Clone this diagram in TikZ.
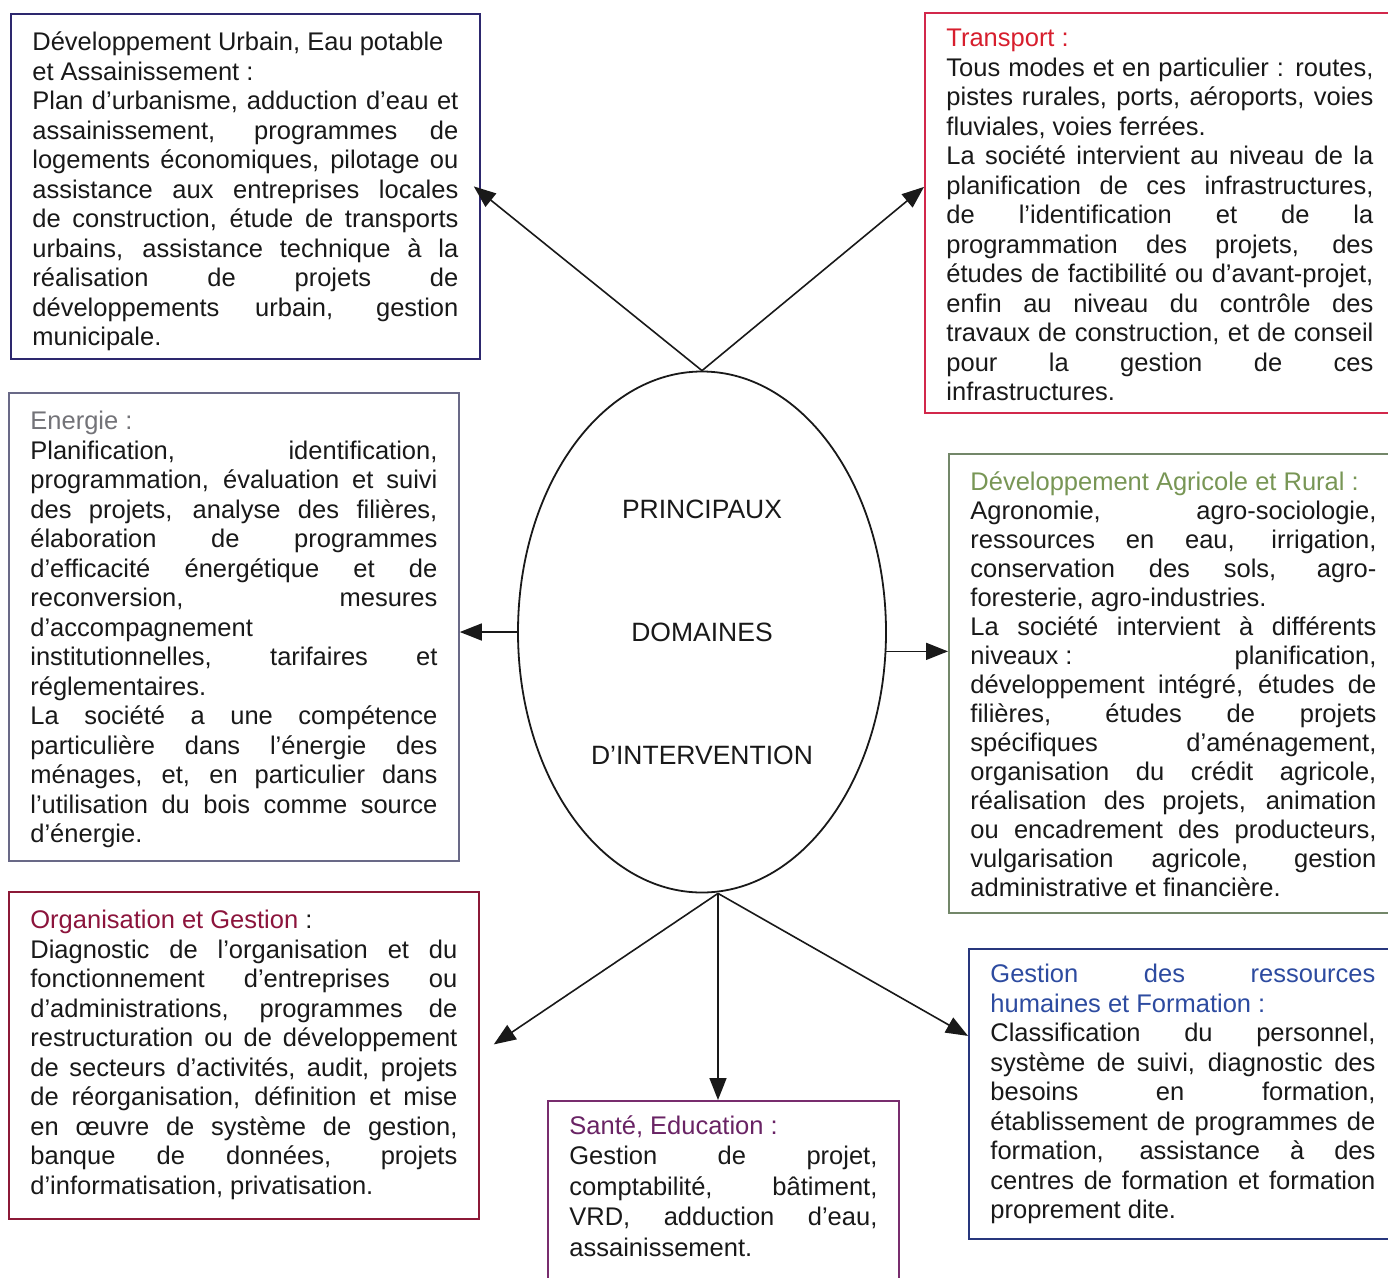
\documentclass[tikz,border=0pt]{standalone}
\usepackage{fontspec}
\setmainfont{Liberation Sans}
\usepackage{tikz}
\usetikzlibrary{arrows.meta}
\usetikzlibrary{shapes.geometric}

\definecolor{ink}{RGB}{25,25,25}
\definecolor{urbline}{RGB}{45,40,110}
\definecolor{transline}{RGB}{210,40,75}
\definecolor{transtitle}{RGB}{215,30,45}
\definecolor{enerline}{RGB}{105,105,135}
\definecolor{enertitle}{RGB}{115,115,120}
\definecolor{agriline}{RGB}{115,135,105}
\definecolor{agrititle}{RGB}{120,150,85}
\definecolor{orgline}{RGB}{140,25,55}
\definecolor{orgtitle}{RGB}{140,20,60}
\definecolor{santeline}{RGB}{120,45,110}
\definecolor{santetitle}{RGB}{105,35,100}
\definecolor{grhline}{RGB}{40,55,125}
\definecolor{grhtitle}{RGB}{45,75,160}

% line ends are set by hand below
\pretolerance=10000
\tolerance=10000
\hyphenpenalty=10000

\begin{document}
\begin{tikzpicture}[x=1pt, y=-1pt,
    carte/.style={draw, line width=1.8pt, anchor=north west, inner xsep=21.5pt,
      inner ysep=16pt, text=ink, font=\fontsize{25.5}{29.5}\selectfont},
    domaines/.style={ellipse, draw=ink, line width=1.8pt, minimum width=368pt,
      minimum height=521pt, inner sep=0pt, align=center, text=ink,
      font=\fontsize{26.5}{123}\selectfont},
    fleche/.style={draw=ink, line width=1.6pt, -{Triangle[length=22pt, width=17pt]}}]

  \useasboundingbox[fill=white] (0,0) rectangle (1388,1277);

  \node[domaines] (ell) at (702,632) {PRINCIPAUX\\DOMAINES\\D’INTERVENTION};

  \node[carte, draw=urbline] (urb) at (10,13)
    {\parbox[t][313pt][t]{426pt}{\strut Développement Urbain, Eau potable\newline
      et Assainissement :\par
      Plan d’urbanisme, adduction d’eau et\linebreak
      assainissement, programmes de\linebreak
      logements économiques, pilotage ou\linebreak
      assistance aux entreprises locales\linebreak
      de construction, étude de transports\linebreak
      urbains, assistance technique à la\linebreak
      réalisation de projets de\linebreak
      développements urbain, gestion\linebreak
      municipale.}};

  \node[carte, draw=transline, inner ysep=13pt] (trans) at (924,12)
    {\parbox[t][374pt][t]{427pt}{\strut\textcolor{transtitle}{Transport :}\par
      Tous modes et en particulier : routes,\linebreak
      pistes rurales, ports, aéroports, voies\linebreak
      fluviales, voies ferrées.\par
      La société intervient au niveau de la\linebreak
      planification de ces infrastructures,\linebreak
      de l’identification et de la\linebreak
      programmation des projets, des\linebreak
      études de factibilité ou d’avant-projet,\linebreak
      enfin au niveau du contrôle des\linebreak
      travaux de construction, et de conseil\linebreak
      pour la gestion de ces\linebreak
      infrastructures.}};

  \node[carte, draw=enerline] (ener) at (8,392)
    {\parbox[t][436pt][t]{407pt}{\strut\textcolor{enertitle}{Energie :}\par
      Planification, identification,\linebreak
      programmation, évaluation et suivi\linebreak
      des projets, analyse des filières,\linebreak
      élaboration de programmes\linebreak
      d’efficacité énergétique et de\linebreak
      reconversion, mesures\linebreak
      d’accompagnement\linebreak
      institutionnelles, tarifaires et\linebreak
      réglementaires.\par
      La société a une compétence\linebreak
      particulière dans l’énergie des\linebreak
      ménages, et, en particulier dans\linebreak
      l’utilisation du bois comme source\linebreak
      d’énergie.}};

  \node[carte, draw=agriline, font=\fontsize{25.5}{29}\selectfont] (agri) at (948,453)
    {\parbox[t][427pt][t]{406pt}{\strut\textcolor{agrititle}{Développement Agricole et Rural :}\par
      Agronomie, agro-sociologie,\linebreak
      ressources en eau, irrigation,\linebreak
      conservation des sols, agro-\linebreak
      foresterie, agro-industries.\par
      La société intervient à différents\linebreak
      \mbox{niveaux :} planification,\linebreak
      développement intégré, études de\linebreak
      filières, études de projets\linebreak
      spécifiques d’aménagement,\linebreak
      organisation du crédit agricole,\linebreak
      réalisation des projets, animation\linebreak
      ou encadrement des producteurs,\linebreak
      vulgarisation agricole, gestion\linebreak
      administrative et financière.}};

  \node[carte, draw=orgline] (org) at (8,891)
    {\parbox[t][295pt][t]{427pt}{\strut\textcolor{orgtitle}{Organisation et Gestion} :\par
      Diagnostic de l’organisation et du\linebreak
      fonctionnement d’entreprises ou\linebreak
      d’administrations, programmes de\linebreak
      restructuration ou de développement\linebreak
      de secteurs d’activités, audit, projets\linebreak
      de réorganisation, définition et mise\linebreak
      en œuvre de système de gestion,\linebreak
      banque de données, projets\linebreak
      d’informatisation, privatisation.}};

  \node[carte, draw=santeline, inner ysep=12pt, font=\fontsize{25.5}{30.5}\selectfont] (sante) at (547,1100)
    {\parbox[t][228pt][t]{308pt}{\strut\textcolor{santetitle}{Santé, Education :}\par
      Gestion de projet,\linebreak
      comptabilité, bâtiment,\linebreak
      VRD, adduction d’eau,\linebreak
      assainissement.}};

  \node[carte, draw=grhline, inner ysep=13pt] (grh) at (968,948)
    {\parbox[t][264pt][t]{385pt}{\strut\textcolor{grhtitle}{Gestion des ressources\linebreak
      humaines et Formation :}\par
      Classification du personnel,\linebreak
      système de suivi, diagnostic des\linebreak
      besoins en formation,\linebreak
      établissement de programmes de\linebreak
      formation, assistance à des\linebreak
      centres de formation et formation\linebreak
      proprement dite.}};

  % arrows out of the ellipse
  \draw[fleche] (ell.north) -- ([xshift=-7pt]urb.east);
  \draw[fleche] (ell.north) -- ([yshift=26pt]trans.west);
  \draw[fleche] (ell.west) -- (ener.east |- ell.west);
  \draw[fleche] (ell.-6) -- (agri.west |- ell.-6);
  \draw[fleche] ([xshift=16pt]ell.south) -- ([xshift=14pt, yshift=11pt]org.east);
  \draw[fleche] ([xshift=16pt]ell.south) -- ([xshift=16pt]ell.south |- sante.north);
  \draw[fleche] ([xshift=16pt]ell.south) -- ([yshift=58pt]grh.west);
\end{tikzpicture}
\end{document}
